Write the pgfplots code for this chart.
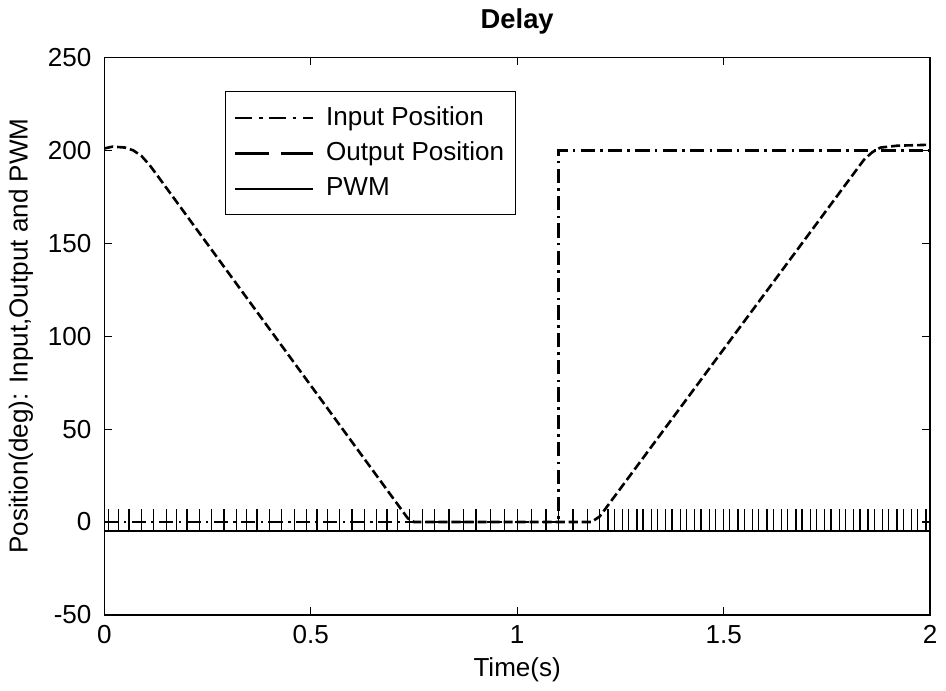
\documentclass[border=0pt]{standalone}
\usepackage{fontspec}
\setmainfont{Liberation Sans}
\usepackage{pgfplots}
\pgfplotsset{compat=1.18}
\begin{document}
\fontsize{20}{24}\selectfont
\begin{tikzpicture}
\begin{axis}[
  scale only axis, width=634pt, height=428pt,
  xmin=0, xmax=2, ymin=-50, ymax=250,
  xtick={0,0.5,1,1.5,2}, ytick={-50,0,50,100,150,200,250},
  tick align=inside, tick pos=both,
  major tick length=6pt,
  every tick/.style={black, line width=0.8pt},
  axis line style={black, line width=1pt},
  /pgf/number format/assume math mode=true,
  ticklabel style={font=\fontsize{20}{24}\selectfont},
  xticklabel style={/pgf/number format/fixed, yshift=-1pt},
  yticklabel style={xshift=-3pt},
  title={\fontsize{21}{25}\selectfont\bfseries Delay},
  title style={yshift=5pt},
  xlabel={Time(s)}, ylabel={Position(deg): Input,Output and PWM},
  label style={font=\fontsize{20}{24}\selectfont},
  xlabel style={yshift=3pt},
  ylabel style={yshift=-2pt},
  legend style={at={(rel axis cs:0.1456,0.939)}, anchor=north west, draw=black,
    line width=0.8pt, fill=white, font=\fontsize{20}{24}\selectfont,
    row sep=6pt, inner xsep=7pt, inner ysep=9pt, cells={anchor=west}},
  legend image code/.code={\draw[#1] (0pt,0pt) -- (60pt,0pt); \path (67pt,0pt);},
]
\addlegendimage{black, line width=1.6pt, dash pattern=on 13pt off 5pt on 3pt off 5pt}
\addlegendentry{Input Position}
\addlegendimage{black, line width=1.6pt, dash pattern=on 26pt off 9pt}
\addlegendentry{Output Position}
\addlegendimage{black, line width=1.6pt}
\addlegendentry{PWM}

% PWM baseline
\addplot[forget plot, black, line width=1.4pt] coordinates {(0,-5)(2,-5)};
% PWM pulses
\addplot[forget plot, only marks, mark=|, mark size=8.5pt, mark options={black, line width=1pt}] coordinates {
(0.01,1)(0.035,1)(0.06,1)(0.09,1)(0.12,1)(0.15,1)(0.175,1)(0.2,1)(0.23,1)(0.26,1)
(0.29,1)(0.32,1)(0.345,1)(0.37,1)(0.4,1)(0.43,1)(0.46,1)(0.49,1)(0.515,1)(0.54,1)
(0.57,1)(0.6,1)(0.63,1)(0.66,1)(0.685,1)(0.71,1)(0.74,1)
(0.77,1)(0.8,1)(0.835,1)(0.87,1)(0.9,1)(0.935,1)(0.97,1)(1.0,1)(1.035,1)(1.07,1)
(1.1,1)(1.135,1)(1.17,1)
(1.2,1)(1.22,1)(1.235,1)(1.255,1)(1.27,1)(1.29,1)(1.305,1)(1.325,1)(1.34,1)(1.36,1)
(1.375,1)(1.395,1)(1.41,1)(1.43,1)(1.445,1)(1.465,1)(1.48,1)(1.5,1)(1.515,1)(1.535,1)
(1.55,1)(1.57,1)(1.585,1)(1.605,1)(1.62,1)(1.64,1)(1.655,1)(1.675,1)(1.69,1)(1.71,1)
(1.725,1)(1.745,1)(1.76,1)(1.78,1)(1.795,1)(1.815,1)(1.83,1)(1.85,1)(1.865,1)(1.885,1)
(1.9,1)(1.92,1)(1.935,1)(1.955,1)(1.97,1)(1.99,1)};
% Input position
\addplot[forget plot, black, line width=1.9pt, dash pattern=on 11pt off 4pt on 2pt off 4pt]
  coordinates {(0,0)(1.1,0)(1.1,200)(2,200)};
% Output position
\addplot[forget plot, black, line width=2pt, dash pattern=on 7pt off 3pt]
  coordinates {(0,201)(0.02,202)(0.05,201.5)(0.07,200)(0.09,197)(0.11,192)(0.13,186)
  (0.735,2)(0.75,0)(1.18,0)(1.2,3)(1.84,195)(1.86,199)(1.88,201.5)(1.92,202.5)(2,203)};
\end{axis}
\end{tikzpicture}
\end{document}
